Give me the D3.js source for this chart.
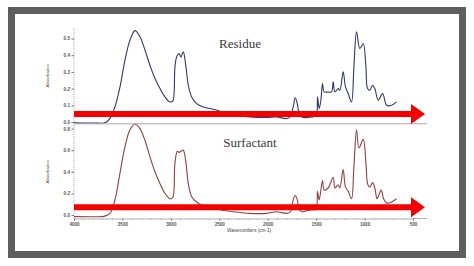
<!DOCTYPE html>
<html>
<head>
<meta charset="utf-8">
<script src="https://cdn.jsdelivr.net/npm/d3@7"></script>
<style>
  body { margin: 0; background: #fff; }
  svg { display: block; }
  .tick text { font-family: Arial, "Liberation Sans", sans-serif; fill: #555; }
</style>
</head>
<body>
<div id="chart"></div>
<script>
// wavenumber (cm-1), absorbance
const residue = [
  [4000, -0.005], [3800, -0.006], [3680, -0.004], [3628, 0.022], [3577, 0.092],
  [3525, 0.21], [3474, 0.37], [3422, 0.49], [3370, 0.547], [3319, 0.51],
  [3267, 0.43], [3216, 0.34], [3164, 0.26], [3112, 0.20], [3061, 0.15],
  [3009, 0.12], [2981, 0.125], [2958, 0.33], [2940, 0.39], [2916, 0.41],
  [2896, 0.39], [2872, 0.42], [2844, 0.33], [2820, 0.22], [2785, 0.15],
  [2734, 0.11], [2665, 0.09], [2562, 0.076], [2356, 0.042], [2184, 0.03],
  [2012, 0.027], [1909, 0.03], [1805, 0.02], [1771, 0.03], [1737, 0.09],
  [1716, 0.145], [1695, 0.11], [1675, 0.05], [1650, 0.03], [1548, 0.03],
  [1500, 0.04], [1486, 0.15], [1469, 0.08], [1451, 0.13], [1434, 0.23],
  [1417, 0.18], [1376, 0.18], [1341, 0.18], [1324, 0.24], [1306, 0.18],
  [1272, 0.20], [1255, 0.19], [1221, 0.30], [1197, 0.21], [1169, 0.17],
  [1135, 0.12], [1110, 0.33], [1083, 0.54], [1049, 0.44], [1014, 0.47],
  [986, 0.33], [969, 0.20], [945, 0.19], [917, 0.22], [894, 0.20],
  [859, 0.13], [814, 0.17], [772, 0.10], [721, 0.10], [670, 0.12]
];

const surfactant = [
  [4000, -0.015], [3800, -0.016], [3690, -0.013], [3628, 0.015], [3577, 0.14],
  [3525, 0.39], [3474, 0.63], [3422, 0.79], [3370, 0.84], [3319, 0.80],
  [3267, 0.69], [3216, 0.54], [3164, 0.40], [3112, 0.29], [3061, 0.20],
  [3009, 0.15], [2981, 0.16], [2958, 0.48], [2933, 0.59], [2913, 0.58],
  [2896, 0.59], [2872, 0.60], [2844, 0.48], [2820, 0.29], [2785, 0.17],
  [2734, 0.12], [2665, 0.083], [2562, 0.06], [2356, 0.03], [2184, 0.015],
  [2012, 0.015], [1909, 0.03], [1805, 0.015], [1764, 0.03], [1737, 0.14],
  [1716, 0.18], [1695, 0.14], [1675, 0.05], [1650, 0.03], [1580, 0.045],
  [1530, 0.05], [1500, 0.05], [1486, 0.22], [1469, 0.14], [1434, 0.32],
  [1417, 0.23], [1376, 0.25], [1324, 0.35], [1306, 0.25], [1272, 0.28],
  [1255, 0.25], [1221, 0.42], [1197, 0.26], [1169, 0.22], [1135, 0.15],
  [1110, 0.45], [1083, 0.79], [1058, 0.62], [1014, 0.70], [986, 0.48],
  [966, 0.28], [945, 0.26], [917, 0.30], [894, 0.25], [872, 0.15],
  [859, 0.17], [828, 0.23], [804, 0.15], [772, 0.11], [721, 0.12], [670, 0.15]
];

const xTicks = [4000, 3500, 3000, 2500, 2000, 1500, 1000, 500];
const residueTicks = [0.0, 0.1, 0.2, 0.3, 0.4, 0.5];
const surfactantTicks = [0.0, 0.2, 0.4, 0.6, 0.8];
// absorbance level of the red arrows
const arrowLevels = [0.048, 0.072];

const W = 474, H = 266;
const svg = d3.select("#chart").append("svg").attr("width", W).attr("height", H);

// frame
svg.append("rect").attr("x", 0).attr("y", 0).attr("width", W).attr("height", H).attr("fill", "#fff");
svg.append("rect")
  .attr("x", 11.5).attr("y", 10.5).attr("width", 451).attr("height", 244)
  .attr("fill", "#fff").attr("stroke", "#5e5e5e").attr("stroke-width", 7);

const x = d3.scaleLinear().domain([4000, 500]).range([74, 413]);
const yTop = d3.scaleLinear().domain([0, 0.5]).range([122, 38.5]);
const yBot = d3.scaleLinear().domain([0, 0.8]).range([215, 128.6]);

function drawPanel(data, y, ticks, color, title, titleX, titleY, axisBottom, axisTop, label) {
  // dotted y axis
  const ax = svg.append("g").attr("transform", "translate(74,0)")
    .call(d3.axisLeft(y).tickValues(ticks).tickFormat(d3.format(".1f")).tickSize(2.5).tickPadding(1.5));
  ax.select(".domain").remove();
  ax.selectAll(".tick line").attr("stroke", "#777");
  ax.selectAll(".tick text").attr("font-size", 4.6).attr("font-weight", "bold");
  svg.append("line").attr("x1", 74).attr("x2", 74).attr("y1", axisTop).attr("y2", axisBottom)
    .attr("stroke", "#888").attr("stroke-width", 0.8).attr("stroke-dasharray", "1,1.2");

  svg.append("text")
    .attr("transform", `translate(49,${(axisTop + axisBottom) / 2}) rotate(-90)`)
    .attr("text-anchor", "middle").attr("font-family", "Arial, sans-serif")
    .attr("font-size", 4.4).attr("fill", "#444").text(label);

  const line = d3.line()
    .x(d => x(d[0])).y(d => y(d[1]))
    .curve(d3.curveCatmullRom.alpha(0.5));
  svg.append("path").datum(data)
    .attr("d", line).attr("fill", "none")
    .attr("stroke", color).attr("stroke-width", 1.1);

  svg.append("text").attr("x", titleX).attr("y", titleY)
    .attr("text-anchor", "middle")
    .attr("font-family", "'Liberation Serif', 'Times New Roman', serif")
    .attr("font-size", 13).attr("fill", "#3a3a3a").text(title);
}

drawPanel(residue, yTop, residueTicks, "#2e3766", "Residue", 240, 48, 123.5, 28, "Absorbance");
drawPanel(surfactant, yBot, surfactantTicks, "#8e4040", "Surfactant", 250, 147, 218.5, 125, "Absorbance");

// top panel bottom line
svg.append("line").attr("x1", 74).attr("x2", 427).attr("y1", 123.8).attr("y2", 123.8)
  .attr("stroke", "#aaa").attr("stroke-width", 1);

// x axis
const xa = svg.append("g").attr("transform", "translate(0,218.5)")
  .call(d3.axisBottom(x).tickValues(xTicks).tickFormat(d3.format("d")).tickSize(2).tickPadding(2.5));
xa.select(".domain").attr("stroke", "#999").attr("stroke-width", 0.8);
xa.selectAll(".tick line").attr("stroke", "#777");
xa.selectAll(".tick text").attr("font-size", 4.6).attr("font-weight", "bold");
svg.append("line").attr("x1", x(500)).attr("x2", 427).attr("y1", 218.5).attr("y2", 218.5)
  .attr("stroke", "#999").attr("stroke-width", 0.8);
svg.append("g").selectAll("line").data(d3.range(3900, 500, -100).filter(v => v % 500 !== 0))
  .join("line").attr("x1", d => x(d)).attr("x2", d => x(d))
  .attr("y1", 218.5).attr("y2", 219.8).attr("stroke", "#999").attr("stroke-width", 0.6);

svg.append("text").attr("x", 249).attr("y", 231.5).attr("text-anchor", "middle")
  .attr("font-family", "Arial, sans-serif").attr("font-size", 4.6).attr("fill", "#444")
  .text("Wavenumbers (cm-1)");

// red arrows
const arrows = [yTop(arrowLevels[0]), yBot(arrowLevels[1])];
svg.append("g").selectAll("path").data(arrows).join("path")
  .attr("d", cy => `M74,${cy - 3} L411,${cy - 3} L411,${cy - 10} L425,${cy} L411,${cy + 10} L411,${cy + 3} L74,${cy + 3} Z`)
  .attr("fill", "#f40000");
</script>
</body>
</html>
